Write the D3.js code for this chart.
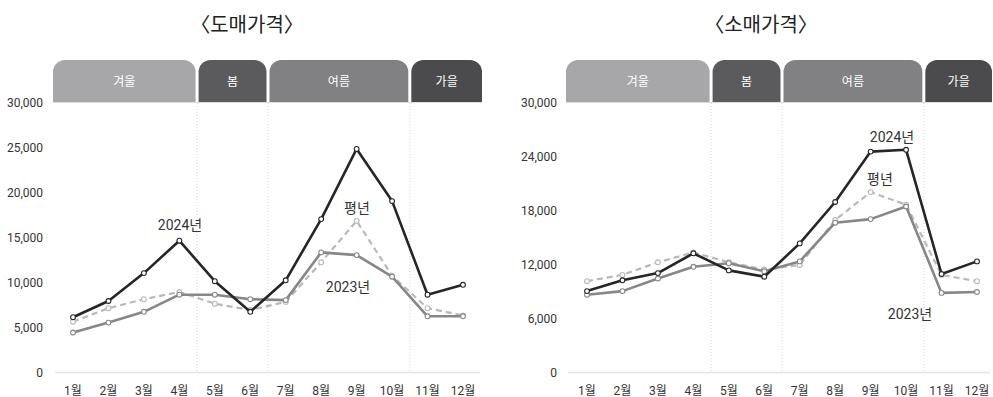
<!DOCTYPE html>
<html lang="ko">
<head>
<meta charset="utf-8">
<script src="https://cdn.jsdelivr.net/npm/d3@7"></script>
<style>
  html, body { margin: 0; padding: 0; background: #fff; }
  svg { display: block; }
  text { font-family: "Noto Sans CJK KR", "Noto Sans", sans-serif; }
  .num { font-family: "Liberation Sans Narrow", "Roboto", "Noto Sans CJK KR", sans-serif; }
</style>
</head>
<body>
<svg id="chart" width="993" height="397"></svg>
<script>
// Months shared by both panels
const months = ["1월","2월","3월","4월","5월","6월","7월","8월","9월","10월","11월","12월"];

// Seasons: label and first/last month index covered
const seasons = [
  { name: "겨울", from: 0, to: 3, color: "#a7a7a9" },
  { name: "봄",   from: 4, to: 5, color: "#5b5b5d" },
  { name: "여름", from: 6, to: 9, color: "#818183" },
  { name: "가을", from: 10, to: 11, color: "#4b4b4d" }
];

// Wholesale price (도매가격)
const wholesaleTicks = [0, 5000, 10000, 15000, 20000, 25000, 30000];
const wholesale2024 = [6200, 8000, 11100, 14700, 10200, 6800, 10300, 17100, 24900, 19100, 8700, 9800];
const wholesale2023 = [4500, 5600, 6800, 8700, 8700, 8200, 8100, 13400, 13100, 10700, 6300, 6300];
const wholesaleAvg  = [5700, 7200, 8200, 9000, 7700, 7000, 7900, 12300, 16900, 10800, 7200, 6400];

// Retail price (소매가격)
const retailTicks = [0, 6000, 12000, 18000, 24000, 30000];
const retail2024 = [9100, 10300, 11100, 13300, 11400, 10700, 14400, 19000, 24600, 24800, 11000, 12400];
const retail2023 = [8700, 9100, 10500, 11800, 12200, 11300, 12400, 16700, 17100, 18500, 8900, 9000];
const retailAvg  = [10200, 10900, 12300, 13400, 12300, 11500, 12000, 17000, 20100, 18700, 10900, 10200];

const svg = d3.select("#chart");

function panel(opt) {
  const g = svg.append("g");

  const x = d3.scalePoint().domain(months).range([opt.x0, opt.x1]);
  const y = d3.scaleLinear().domain([0, 30000]).range([373, 103]);
  const step = x.step();

  // Title
  g.append("text")
    .attr("x", opt.titleX).attr("y", 32)
    .attr("text-anchor", "middle")
    .attr("font-size", 20).attr("fill", "#222")
    .text(opt.title);

  // Season tabs with rounded top corners
  const tabTop = 60, tabBottom = 102, r = 12;
  seasons.forEach((s, i) => {
    const left = i === 0 ? opt.axisL - 2 : x(months[s.from]) - step / 2 + 1.5;
    const right = i === seasons.length - 1 ? opt.axisR + 2 : x(months[s.to]) + step / 2 - 1.5;
    const p = d3.path();
    p.moveTo(left, tabBottom);
    p.lineTo(left, tabTop + r);
    p.arcTo(left, tabTop, left + r, tabTop, r);
    p.lineTo(right - r, tabTop);
    p.arcTo(right, tabTop, right, tabTop + r, r);
    p.lineTo(right, tabBottom);
    p.closePath();
    g.append("path").attr("d", p.toString()).attr("fill", s.color);
    g.append("text")
      .attr("x", (left + right) / 2).attr("y", 86)
      .attr("text-anchor", "middle")
      .attr("font-size", 12).attr("fill", "#fff")
      .text(s.name);
  });
  g.append("line")
    .attr("x1", opt.axisL - 2).attr("x2", opt.axisR + 2)
    .attr("y1", tabBottom + 0.5).attr("y2", tabBottom + 0.5)
    .attr("stroke", "#dcdcdc").attr("stroke-width", 1.2);

  // Dotted season separators
  seasons.slice(1).forEach(s => {
    const sx = x(months[s.from]) - step / 2;
    g.append("line")
      .attr("x1", sx).attr("x2", sx)
      .attr("y1", tabBottom + 1).attr("y2", 372)
      .attr("stroke", "#d6d6d6").attr("stroke-width", 1)
      .attr("stroke-dasharray", "1,2");
  });

  // Baseline
  g.append("line")
    .attr("x1", opt.axisL).attr("x2", opt.axisR)
    .attr("y1", y(0) - 0.5).attr("y2", y(0) - 0.5)
    .attr("stroke", "#e4e4e4").attr("stroke-width", 1.5);

  // Y tick labels
  g.selectAll(".ytick").data(opt.ticks).join("text")
    .attr("class", "num")
    .attr("x", opt.labelX).attr("y", d => y(d) + 4)
    .attr("text-anchor", "end")
    .attr("font-size", 12).attr("fill", "#333")
    .text(d => d3.format(",")(d));

  // Month labels
  g.selectAll(".mtick").data(months).join("text")
    .attr("class", "num")
    .attr("x", d => x(d)).attr("y", 395)
    .attr("text-anchor", "middle")
    .attr("font-size", 12).attr("fill", "#333")
    .text(d => d);

  const line = d3.line().x((d, i) => x(months[i])).y(d => y(d));

  const series = [
    { values: opt.avg,  color: "#b9b9b9", width: 2.2, dash: "6,4" },
    { values: opt.y23,  color: "#878787", width: 2.6, dash: null },
    { values: opt.y24,  color: "#262626", width: 2.6, dash: null }
  ];
  series.forEach(s => {
    g.append("path")
      .attr("d", line(s.values))
      .attr("fill", "none")
      .attr("stroke", s.color)
      .attr("stroke-width", s.width)
      .attr("stroke-linejoin", "round")
      .attr("stroke-dasharray", s.dash);
    g.selectAll(null).data(s.values).join("circle")
      .attr("cx", (d, i) => x(months[i])).attr("cy", d => y(d))
      .attr("r", 2.4)
      .attr("fill", "#fff")
      .attr("stroke", s.color)
      .attr("stroke-width", 1.1);
  });

  // Series labels
  opt.labels.forEach(l => {
    g.append("text")
      .attr("class", "num")
      .attr("x", l.x).attr("y", l.y)
      .attr("text-anchor", "middle")
      .attr("font-size", 14).attr("fill", "#333")
      .text(l.text);
  });
}

panel({
  title: "〈도매가격〉", titleX: 247,
  x0: 73, x1: 463, axisL: 55, axisR: 480, labelX: 43,
  ticks: wholesaleTicks,
  y24: wholesale2024, y23: wholesale2023, avg: wholesaleAvg,
  labels: [
    { text: "2024년", x: 180, y: 230 },
    { text: "평년",   x: 357, y: 213 },
    { text: "2023년", x: 348, y: 292 }
  ]
});

panel({
  title: "〈소매가격〉", titleX: 761,
  x0: 587, x1: 977, axisL: 568, axisR: 990, labelX: 557,
  ticks: retailTicks,
  y24: retail2024, y23: retail2023, avg: retailAvg,
  labels: [
    { text: "2024년", x: 892, y: 142 },
    { text: "평년",   x: 880, y: 184 },
    { text: "2023년", x: 910, y: 319 }
  ]
});
</script>
</body>
</html>
